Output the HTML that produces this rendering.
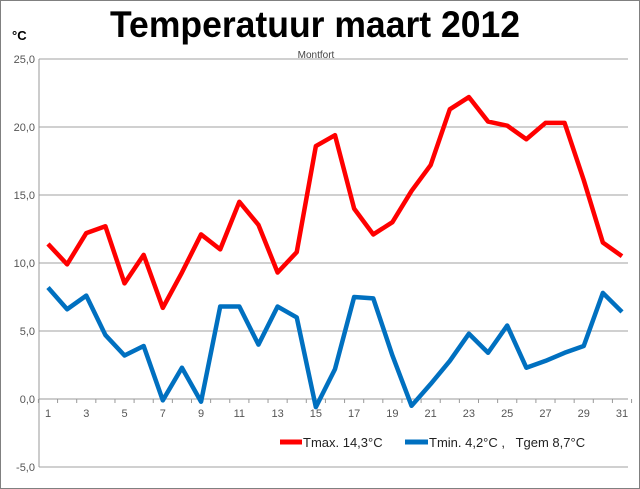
<!DOCTYPE html>
<html><head><meta charset="utf-8"><style>
body{margin:0;background:#fff;}
svg{display:block;font-family:"Liberation Sans",sans-serif;}
</style></head><body>
<svg id="chart" width="640" height="489">
<rect x="0.5" y="0.5" width="639" height="488" fill="#fff" stroke="#808080"/>
<text x="110" y="37" textLength="410" lengthAdjust="spacingAndGlyphs" font-size="37" font-weight="bold">Temperatuur maart 2012</text>
<text x="12" y="40" font-size="13" font-weight="bold">°C</text>
<text x="316" y="58" text-anchor="middle" font-size="10" fill="#444">Montfort</text>
<g id="grid"></g><g id="axes"></g><g id="series"></g>
<g>
<line x1="280" y1="442" x2="302" y2="442" stroke="#ff0000" stroke-width="5"/>
<text x="303" y="447" font-size="13" fill="#222">Tmax. 14,3°C</text>
<line x1="405" y1="442" x2="428" y2="442" stroke="#0070c0" stroke-width="5"/>
<text x="429" y="447" font-size="13" fill="#222" xml:space="preserve">Tmin. 4,2°C ,   Tgem 8,7°C</text>
</g>
</svg>
<script>
const days=[1,2,3,4,5,6,7,8,9,10,11,12,13,14,15,16,17,18,19,20,21,22,23,24,25,26,27,28,29,30,31];
const tmax=[11.4,9.9,12.2,12.7,8.5,10.6,6.7,9.3,12.1,11.0,14.5,12.8,9.3,10.8,18.6,19.4,14.0,12.1,13.0,15.3,17.2,21.3,22.2,20.4,20.1,19.1,20.3,20.3,16.1,11.5,10.5];
const tmin=[8.2,6.6,7.6,4.7,3.2,3.9,-0.1,2.3,-0.2,6.8,6.8,4.0,6.8,6.0,-0.6,2.2,7.5,7.4,3.2,-0.5,1.1,2.8,4.8,3.4,5.4,2.3,2.8,3.4,3.9,7.8,6.4];
const yTicks=[-5,0,5,10,15,20,25];
const yTickLabels=["-5,0","0,0","5,0","10,0","15,0","20,0","25,0"];
const NS="http://www.w3.org/2000/svg";
const L=39,R=628,T=59,B=467;
function x(d){return 48+(d-1)*(622-48)/30;}
function y(v){return 399-v*68/5;}
function mk(tag,attrs,parent){const e=document.createElementNS(NS,tag);for(const k in attrs)e.setAttribute(k,attrs[k]);document.getElementById(parent).appendChild(e);return e;}
yTicks.forEach((t,i)=>{
 const g=mk('line',{x1:L,x2:R,y1:y(t),y2:y(t),stroke:t===0?'#999':'#a0a0a0','stroke-width':1},'grid');
 
 
 const tx=mk('text',{x:35,y:y(t)+4,'text-anchor':'end','font-size':11,fill:'#555'},'axes');
 tx.textContent=yTickLabels[i];
 
 
});
const ax=mk('line',{x1:L,x2:L,y1:T,y2:B,stroke:'#999'},'axes');


for(let i=0;i<=31;i++){
 const xx=48-(622-48)/60+i*(622-48)/30;
 const tk=mk('line',{x1:xx,x2:xx,y1:y(0),y2:y(0)+4,stroke:'#999'},'axes');
 
 
}
days.forEach(d=>{
 if(d%2===1){
  const tx=mk('text',{x:x(d),y:y(0)+18,'text-anchor':'middle','font-size':11,fill:'#555'},'axes');
  tx.textContent=d;
  
  
 }
});
function line(vals,color,name){
 const p=mk('polyline',{points:vals.map((v,i)=>x(days[i])+','+y(v)).join(' '),fill:'none',stroke:color,'stroke-width':4.5,'stroke-linejoin':'round'},'series');
 
 
}
line(tmin,'#0070c0','tmin-line');
line(tmax,'#ff0000','tmax-line');
</script>
</body></html>
